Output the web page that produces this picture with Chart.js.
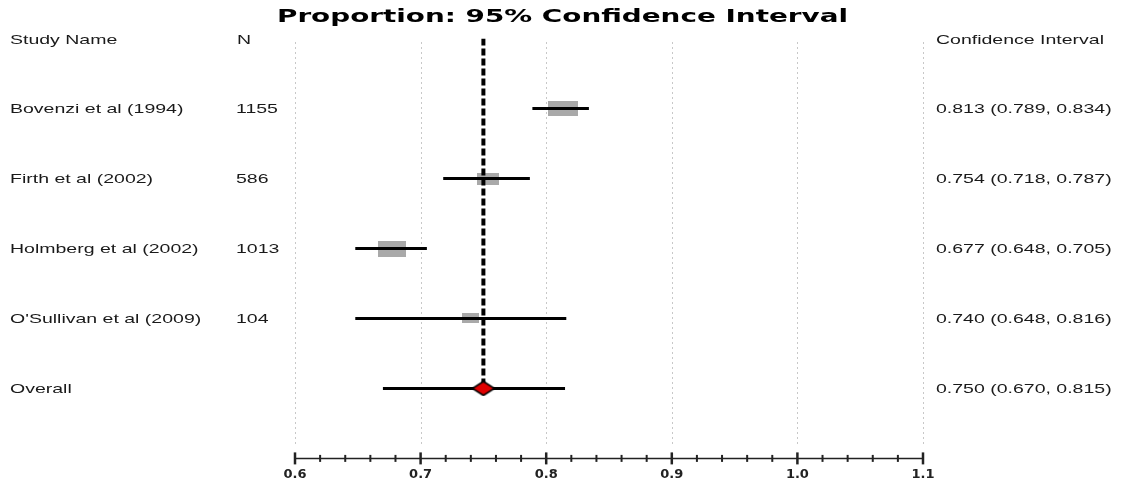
<!DOCTYPE html>
<html><head><meta charset="utf-8">
<script src="https://cdn.jsdelivr.net/npm/chart.js@4.4.1/dist/chart.umd.min.js"></script>
<style>html,body{margin:0;padding:0;background:#fff;}canvas{display:block;}</style>
</head><body>
<canvas id="c" width="1121" height="481"></canvas>
<script>
// ---- data ----
const studies = ["Bovenzi et al (1994)", "Firth et al (2002)", "Holmberg et al (2002)", "O'Sullivan et al (2009)"];
const sampleN = [1155, 586, 1013, 104];
const estimate = [0.813, 0.754, 0.677, 0.740];
const lower = [0.789, 0.718, 0.648, 0.648];
const upper = [0.834, 0.787, 0.705, 0.816];
const overallLabel = "Overall";
const overallEstimate = [0.750];
const overallLower = [0.670];
const overallUpper = [0.815];
const tickLabels = ["0.6", "0.7", "0.8", "0.9", "1.0", "1.1"];
const titleText = "Proportion: 95% Confidence Interval";
const headers = ["Study Name", "N", "Confidence Interval"];

// ---- styles ----
const boxW = [30, 22, 28, 17];
const boxH = [15, 12, 16, 10];
const SX = 1.5;
const textFont = '13px "Liberation Sans", Arial, sans-serif';
const textColor = '#1a1a1a';

function makeBox(w, h) {
  const c = document.createElement('canvas'); c.width = w; c.height = h;
  const g = c.getContext('2d'); g.fillStyle = '#a9a9a9'; g.fillRect(0, 0, w, h);
  return c;
}
function makeDiamond(w, h) {
  const c = document.createElement('canvas'); c.width = w; c.height = h;
  const g = c.getContext('2d');
  g.beginPath(); g.moveTo(w / 2, 1); g.lineTo(w - 1, h / 2); g.lineTo(w / 2, h - 1); g.lineTo(1, h / 2); g.closePath();
  g.fillStyle = '#e00000'; g.fill(); g.lineWidth = 1.5; g.strokeStyle = '#000'; g.stroke();
  return c;
}

const rowsY = studies.map((s, i) => i + 1);
const overallY = studies.length + 1;

const datasets = [];
// CI lines
studies.forEach((s, i) => {
  datasets.push({ data: [{ x: lower[i], y: rowsY[i] }, { x: upper[i], y: rowsY[i] }], showLine: true,
    borderColor: '#000', borderWidth: 3, pointRadius: 0, order: 2, borderCapStyle: 'butt' });
});
datasets.push({ data: [{ x: overallLower[0], y: overallY }, { x: overallUpper[0], y: overallY }], showLine: true,
  borderColor: '#000', borderWidth: 3, pointRadius: 0, order: 2 });
// boxes
datasets.push({ data: studies.map((s, i) => ({ x: estimate[i], y: rowsY[i] })),
  pointStyle: studies.map((s, i) => makeBox(boxW[i], boxH[i])), pointRadius: 5, order: 3 });
// dashed overall reference line
datasets.push({ data: [{ x: overallEstimate[0], y: 0 }, { x: overallEstimate[0], y: overallY }], showLine: true,
  borderColor: '#000', borderWidth: 4, borderDash: [7, 3], pointRadius: 0, order: 1 });
// diamond
datasets.push({ data: [{ x: overallEstimate[0], y: overallY }], pointStyle: makeDiamond(24, 16), pointRadius: 5, order: 0 });

function stretchText(ctx, str, x, y, sx) {
  ctx.save(); ctx.translate(x, y); ctx.scale(sx, 1); ctx.fillText(str, 0, 0); ctx.restore();
}

const forestPlugin = {
  id: 'forest',
  beforeDatasetsDraw(chart) {
    const ctx = chart.ctx, xs = chart.scales.x;
    ctx.save();
    ctx.strokeStyle = '#c8c8c8'; ctx.lineWidth = 1; ctx.setLineDash([2, 3]);
    xs.ticks.forEach((t, i) => {
      if (i % 5 !== 0) return;
      const px = Math.round(xs.getPixelForValue(t.value)) + 0.5;
      ctx.beginPath(); ctx.moveTo(px, 42); ctx.lineTo(px, 446); ctx.stroke();
    });
    ctx.restore();
  },
  afterDraw(chart) {
    const ctx = chart.ctx, xs = chart.scales.x, ys = chart.scales.y;
    const base = chart.chartArea.bottom;
    ctx.save();
    // axis
    ctx.strokeStyle = '#222'; ctx.lineWidth = 1.5;
    ctx.beginPath(); ctx.moveTo(xs.getPixelForValue(xs.min), base); ctx.lineTo(xs.getPixelForValue(xs.max), base); ctx.stroke();
    xs.ticks.forEach((t, i) => {
      const px = xs.getPixelForValue(t.value);
      const len = i % 5 === 0 ? 6 : 3.5;
      ctx.lineWidth = i % 5 === 0 ? 2.5 : 2;
      ctx.beginPath(); ctx.moveTo(px, base - len); ctx.lineTo(px, base + len); ctx.stroke();
    });
    // title
    ctx.fillStyle = '#000';
    ctx.font = 'bold 18px "DejaVu Sans", sans-serif';
    ctx.textBaseline = 'alphabetic'; ctx.textAlign = 'left';
    const tw = ctx.measureText(titleText).width;
    stretchText(ctx, titleText, 277, 22, 571 / tw);
    // headers
    ctx.fillStyle = textColor; ctx.font = textFont;
    stretchText(ctx, headers[0], 10, 44, SX);
    stretchText(ctx, headers[1], 237, 44, SX);
    stretchText(ctx, headers[2], 936, 44, SX);
    // rows
    ctx.textBaseline = 'middle';
    studies.forEach((s, i) => {
      const py = ys.getPixelForValue(rowsY[i]) + 0.5;
      stretchText(ctx, s, 10, py, SX);
      stretchText(ctx, String(sampleN[i]), 236, py, SX);
      stretchText(ctx, `${estimate[i].toFixed(3)} (${lower[i].toFixed(3)}, ${upper[i].toFixed(3)})`, 936, py, SX);
    });
    const po = ys.getPixelForValue(overallY) + 0.5;
    stretchText(ctx, overallLabel, 10, po, SX);
    stretchText(ctx, `${overallEstimate[0].toFixed(3)} (${overallLower[0].toFixed(3)}, ${overallUpper[0].toFixed(3)})`, 936, po, SX);
    ctx.restore();
  }
};

new Chart(document.getElementById('c'), {
  type: 'scatter',
  data: { datasets },
  options: {
    responsive: false, animation: false,
    layout: { padding: { left: 295, right: 198, top: 38.6, bottom: -9 } },
    plugins: { legend: { display: false }, tooltip: { enabled: false }, title: { display: false } },
    scales: {
      x: {
        type: 'linear', min: 0.6, max: 1.1, position: 'bottom',
        grid: { display: false, drawTicks: false, tickLength: 0 },
        border: { display: false },
        ticks: {
          stepSize: 0.02, autoSkip: false, maxRotation: 0, padding: 8, color: '#222',
          font: { family: '"DejaVu Sans", sans-serif', size: 13, weight: 'bold' },
          callback: (v, i) => (i % 5 === 0 ? tickLabels[i / 5] : '')
        }
      },
      y: { type: 'linear', min: 0, max: 6, reverse: true, display: false }
    }
  },
  plugins: [forestPlugin]
});
</script>
</body></html>
